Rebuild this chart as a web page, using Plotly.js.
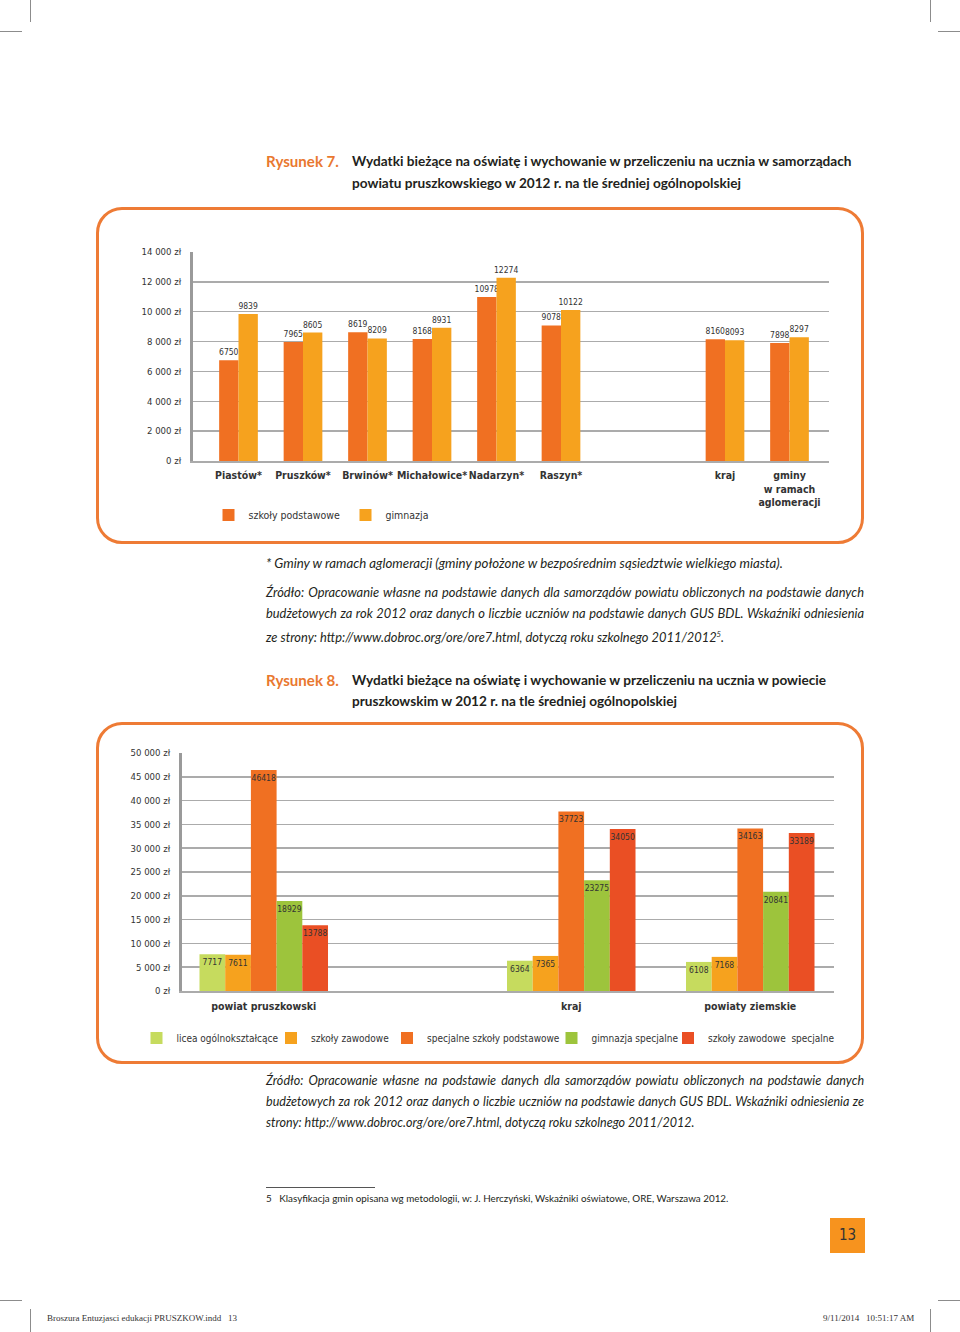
<!DOCTYPE html>
<html><head><meta charset="utf-8">
<script src="https://cdn.plot.ly/plotly-3.0.1.min.js"></script>
<style>
body{margin:0;background:#fff;}
#page{position:relative;width:960px;height:1332px;overflow:hidden;background:#fff;font-family:Lato,'Open Sans',sans-serif;color:#231f20;}
.ln{position:absolute;white-space:nowrap;line-height:18px;height:18px;}
.mark{position:absolute;background:#8c8c8c;}
.box{position:absolute;border:3px solid #EE7B35;border-radius:26px;box-sizing:border-box;}
.chart{position:absolute;}
</style></head><body><div id="page">
<div class="mark" style="left:30px;top:0;width:1px;height:22px"></div>
<div class="mark" style="left:0;top:31px;width:22px;height:1px"></div>
<div class="mark" style="left:930px;top:0;width:1px;height:22px"></div>
<div class="mark" style="left:938px;top:31px;width:22px;height:1px"></div>
<div class="mark" style="left:0;top:1300px;width:22px;height:1px"></div>
<div class="mark" style="left:938px;top:1300px;width:22px;height:1px"></div>
<div class="mark" style="left:30px;top:1309px;width:1px;height:23px"></div>
<div class="mark" style="left:930px;top:1309px;width:1px;height:23px"></div>
<div class="box" style="left:96px;top:207px;width:768px;height:337px"></div>
<div class="box" style="left:96px;top:722px;width:768px;height:342px"></div>
<div id="chart1" class="chart" style="left:97px;top:208px;width:766px;height:335px"></div>
<div id="chart2" class="chart" style="left:97px;top:723px;width:766px;height:340px"></div>
<div style="position:absolute;left:266px;top:1187px;width:109px;height:1px;background:#555"></div>
<div style="position:absolute;left:830px;top:1218px;width:35px;height:35px;background:#F7931E;color:#333;font-size:15px;line-height:35px;text-align:center;font-family:'DejaVu Sans Condensed','DejaVu Sans',sans-serif">13</div>
<div style="position:absolute;left:47px;top:1313px;font-family:'Liberation Serif',serif;font-size:9px;color:#333;white-space:nowrap">Broszura Entuzjasci edukacji PRUSZKOW.indd&nbsp;&nbsp;&nbsp;13</div>
<div style="position:absolute;left:823px;top:1313px;font-family:'Liberation Serif',serif;font-size:9px;color:#333;white-space:nowrap">9/11/2014&nbsp;&nbsp;&nbsp;10:51:17 AM</div>
</div>
<script>
// ---------- data: Rysunek 7 ----------
const categories1 = ['Piastów*','Pruszków*','Brwinów*','Michałowice*','Nadarzyn*','Raszyn*','kraj','gminy<br>w ramach<br>aglomeracji'];
const szkolyPodstawowe = [6750,7965,8619,8168,10978,9078,8160,7898];
const gimnazja = [9839,8605,8209,8931,12274,10122,8093,8297];
const yTickVals1 = [0,2000,4000,6000,8000,10000,12000,14000];
const yTickText1 = ['0 zł','2 000 zł','4 000 zł','6 000 zł','8 000 zł','10 000 zł','12 000 zł','14 000 zł'];
const leftGroupCount1 = 6;

// ---------- data: Rysunek 8 ----------
const categories2 = ['powiat pruszkowski','kraj','powiaty ziemskie'];
const liceaOgolnoksztalcace = [7717,6364,6108];
const szkolyZawodowe = [7611,7365,7168];
const specjalneSzkolyPodstawowe = [46418,37723,34163];
const gimnazjaSpecjalne = [18929,23275,20841];
const szkolyZawodoweSpecjalne = [13788,34050,33189];
const seriesNames2 = ['licea ogólnokształcące','szkoły zawodowe','specjalne szkoły podstawowe','gimnazja specjalne','szkoły zawodowe  specjalne'];
const yTickVals2 = [0,5000,10000,15000,20000,25000,30000,35000,40000,45000,50000];
const yTickText2 = ['0 zł','5 000 zł','10 000 zł','15 000 zł','20 000 zł','25 000 zł','30 000 zł','35 000 zł','40 000 zł','45 000 zł','50 000 zł'];
const leftGroupCount2 = 1;

// ---------- styles ----------
const NARROW = "'DejaVu Sans Condensed','DejaVu Sans',sans-serif";
const TXT = '#333333';
const GRID = '#ababab';
const AXIS = '#9a9a9a';
const C_PODST = '#F07022', C_GIMN = '#F6A21E';
const colors2 = ['#C6DB5E','#F6A21E','#F07022','#9DC43C','#EA4F24'];

// ---------- text lines ----------
const lines = [
 {g:'h7a',x:266,y:161,t:'Rysunek 7.',bold:1,color:'#E9782F',fs:13.5,ref:73},
 {g:'h7',x:352,y:161,t:'Wydatki bieżące na oświatę i wychowanie w przeliczeniu na ucznia w samorządach',bold:1,fs:13.5},
 {g:'h7',x:352,y:183,t:'powiatu pruszkowskiego w 2012 r. na tle średniej ogólnopolskiej',bold:1,fs:13.5,ref:389},
 {g:'n7',x:266,y:563,t:'* Gminy w ramach aglomeracji (gminy położone w bezpośrednim sąsiedztwie wielkiego miasta).',it:1,fs:12.5,ref:517},
 {g:'s7',x:266,y:592,t:'Źródło: Opracowanie własne na podstawie danych dla samorządów powiatu obliczonych na podstawie danych',it:1,fs:12.5,just:598},
 {g:'s7',x:266,y:613,t:'budżetowych za rok 2012 oraz danych o liczbie uczniów na podstawie danych GUS BDL. Wskaźniki odniesienia',it:1,fs:12.5,just:598},
 {g:'s7',x:266,y:634,t:'ze strony: http://www.dobroc.org/ore/ore7.html, dotyczą roku szkolnego 2011/2012<sup style="font-size:60%">5</sup>.',it:1,fs:12.5,ref:458},
 {g:'h8a',x:266,y:680,t:'Rysunek 8.',bold:1,color:'#E9782F',fs:13.5,ref:73},
 {g:'h8',x:352,y:680,t:'Wydatki bieżące na oświatę i wychowanie w przeliczeniu na ucznia w powiecie',bold:1,fs:13.5},
 {g:'h8',x:352,y:701,t:'pruszkowskim w 2012 r. na tle średniej ogólnopolskiej',bold:1,fs:13.5,ref:325},
 {g:'s8',x:266,y:1081,t:'Źródło: Opracowanie własne na podstawie danych dla samorządów powiatu obliczonych na podstawie danych',it:1,fs:12.5,just:598},
 {g:'s8',x:266,y:1102,t:'budżetowych za rok 2012 oraz danych o liczbie uczniów na podstawie danych GUS BDL. Wskaźniki odniesienia ze',it:1,fs:12.5,just:598},
 {g:'s8',x:266,y:1123,t:'strony: http://www.dobroc.org/ore/ore7.html, dotyczą roku szkolnego 2011/2012.',it:1,fs:12.5,ref:429},
 {g:'f',x:266,y:1198,t:'5&nbsp;&nbsp;&nbsp;Klasyfikacja gmin opisana wg metodologii, w: J. Herczyński, Wskaźniki oświatowe, ORE, Warszawa 2012.',fs:10,ref:463}
];
const page = document.getElementById('page');
const els = lines.map(l => {
  const d = document.createElement('div');
  d.className = 'ln';
  d.innerHTML = l.t;
  d.style.left = l.x + 'px';
  d.style.top = (l.y - 9) + 'px';
  d.style.fontSize = l.fs + 'px';
  if (l.bold) d.style.fontWeight = '700';
  if (l.it) d.style.fontStyle = 'italic';
  if (l.color) d.style.color = l.color;
  page.appendChild(d);
  return d;
});
const groups = {};
lines.forEach((l,i)=>{ if(l.ref) groups[l.g] = l.ref / els[i].getBoundingClientRect().width; });
lines.forEach((l,i)=>{ const k = groups[l.g]; if(k){ els[i].style.fontSize = (l.fs*k).toFixed(2)+'px'; }});
lines.forEach((l,i)=>{
  if(l.just){
    const w = els[i].getBoundingClientRect().width;
    const n = (l.t.match(/ /g)||[]).length;
    els[i].style.wordSpacing = ((l.just - w)/n).toFixed(2) + 'px';
  }
});

// ---------- helpers ----------
function splitRanges(plotW, slot, firstPx, splitPx, secondPx){
  const a = [-firstPx/slot, (splitPx-firstPx)/slot];
  const bStart = -(secondPx-splitPx)/slot;
  const b = [bStart, bStart + (plotW-splitPx)/slot];
  return {a, b, frac: splitPx/plotW};
}
function legendBox(xAbs, yAbs, chartLeft, chartTop, m, plotW, plotH, size){
  return {
    x: (xAbs - chartLeft - m.l)/plotW,
    y: (chartTop + m.t + plotH - yAbs)/plotH,
    xanchor:'left', yanchor:'middle', orientation:'h',
    bgcolor:'rgba(0,0,0,0)', borderwidth:0,
    font:{family:NARROW, size:size, color:TXT}
  };
}

// ---------- chart 1 ----------
(function(){
  const W=766,H=335, m={l:96,r:34,t:44,b:82};
  const plotW=W-m.l-m.r, plotH=H-m.t-m.b;
  const r = splitRanges(plotW, 64.5, 45.5, 447, 532);
  const n = leftGroupCount1;
  const txt = {family:NARROW,size:8.5,color:TXT};
  function bar(xs, ys, name, color, xa, ya, show, leg){
    return {type:'bar', x:xs, y:ys, name:name, marker:{color:color,line:{width:0}},
      xaxis:xa, yaxis:ya, showlegend:show, legend:leg, legendgroup:name,
      texttemplate:'%{y:d}', textposition:'outside', textangle:0, constraintext:'none',
      textfont:txt, outsidetextfont:txt, cliponaxis:false, hoverinfo:'skip'};
  }
  const data = [
    bar(categories1.slice(0,n), szkolyPodstawowe.slice(0,n), 'szkoły podstawowe', C_PODST, 'x','y', true, 'legend'),
    bar(categories1.slice(0,n), gimnazja.slice(0,n), 'gimnazja', C_GIMN, 'x','y', true, 'legend2'),
    bar(categories1.slice(n), szkolyPodstawowe.slice(n), 'szkoły podstawowe', C_PODST, 'x2','y2', false, 'legend'),
    bar(categories1.slice(n), gimnazja.slice(n), 'gimnazja', C_GIMN, 'x2','y2', false, 'legend2')
  ];
  const xax = (dom, rng, anchor) => ({domain:dom, range:rng, anchor:anchor, type:'category',
    showline:true, linecolor:GRID, linewidth:1.5, showgrid:false, zeroline:false, ticks:'', tickangle:0,
    tickfont:{family:NARROW,size:10.5,color:TXT,weight:'bold'}, ticklabelstandoff:4, fixedrange:true});
  const yax = (anchor, labels) => ({anchor:anchor, range:[0,14000], tickvals:yTickVals1, ticktext:yTickText1,
    showticklabels:labels, showgrid:true, gridcolor:GRID, gridwidth:1.5, zeroline:false,
    showline:labels, linecolor:AXIS, linewidth:3, ticks:'', ticklabelstandoff:7,
    tickfont:{family:NARROW,size:9.5,color:TXT}, fixedrange:true});
  const layout = {
    width:W, height:H, margin:m, paper_bgcolor:'rgba(0,0,0,0)', plot_bgcolor:'rgba(0,0,0,0)',
    barmode:'group', bargap:0.4, bargroupgap:0,
    xaxis: xax([0,r.frac], r.a, 'y'), xaxis2: xax([r.frac,1], r.b, 'y2'),
    yaxis: yax('x', true), yaxis2: yax('x2', false),
    legend: legendBox(231.5-23, 515, 97, 208, m, plotW, plotH, 10.5),
    legend2: legendBox(368.5-23, 515, 97, 208, m, plotW, plotH, 10.5),
    showlegend:true
  };
  Plotly.newPlot('chart1', data, layout, {staticPlot:true, displayModeBar:false});
})();

// ---------- chart 2 ----------
(function(){
  const W=766,H=340, m={l:85,r:29,t:30,b:71};
  const plotW=W-m.l-m.r, plotH=H-m.t-m.b;
  const r = splitRanges(plotW, 179, 81.75, 248, 389.25);
  const n = leftGroupCount2;
  const series = [liceaOgolnoksztalcace, szkolyZawodowe, specjalneSzkolyPodstawowe, gimnazjaSpecjalne, szkolyZawodoweSpecjalne];
  const legendSq = [159.5, 294, 410, 574.5, 691];
  const txt = {family:NARROW,size:8.5,color:TXT};
  const data = [];
  series.forEach((vals,i)=>{
    const leg = i===0 ? 'legend' : 'legend'+(i+1);
    [[categories2.slice(0,n), vals.slice(0,n), 'x','y', true],[categories2.slice(n), vals.slice(n), 'x2','y2', false]].forEach(p=>{
      data.push({type:'bar', x:p[0], y:p[1], name:seriesNames2[i], marker:{color:colors2[i],line:{width:0}},
        xaxis:p[2], yaxis:p[3], showlegend:p[4], legend:leg, legendgroup:seriesNames2[i],
        texttemplate:'%{y:d}', textposition:'inside', insidetextanchor:'end', textangle:0, constraintext:'none',
        insidetextfont:txt, textfont:txt, cliponaxis:false, hoverinfo:'skip'});
    });
  });
  const xax = (dom, rng, anchor) => ({domain:dom, range:rng, anchor:anchor, type:'category',
    showline:true, linecolor:GRID, linewidth:1.5, showgrid:false, zeroline:false, ticks:'', tickangle:0,
    tickfont:{family:NARROW,size:10.5,color:TXT,weight:'bold'}, ticklabelstandoff:5, fixedrange:true});
  const yax = (anchor, labels) => ({anchor:anchor, range:[0,50000], tickvals:yTickVals2, ticktext:yTickText2,
    showticklabels:labels, showgrid:true, gridcolor:GRID, gridwidth:1.5, zeroline:false,
    showline:labels, linecolor:AXIS, linewidth:3, ticks:'', ticklabelstandoff:7,
    tickfont:{family:NARROW,size:9.5,color:TXT}, fixedrange:true});
  const layout = {
    width:W, height:H, margin:m, paper_bgcolor:'rgba(0,0,0,0)', plot_bgcolor:'rgba(0,0,0,0)',
    barmode:'group', bargap:0.282, bargroupgap:0,
    xaxis: xax([0,r.frac], r.a, 'y'), xaxis2: xax([r.frac,1], r.b, 'y2'),
    yaxis: yax('x', true), yaxis2: yax('x2', false),
    showlegend:true
  };
  legendSq.forEach((sx,i)=>{
    const key = i===0 ? 'legend' : 'legend'+(i+1);
    layout[key] = legendBox(sx-23, 1038, 97, 723, m, plotW, plotH, 10);
  });
  Plotly.newPlot('chart2', data, layout, {staticPlot:true, displayModeBar:false});
})();
</script>
</body></html>
